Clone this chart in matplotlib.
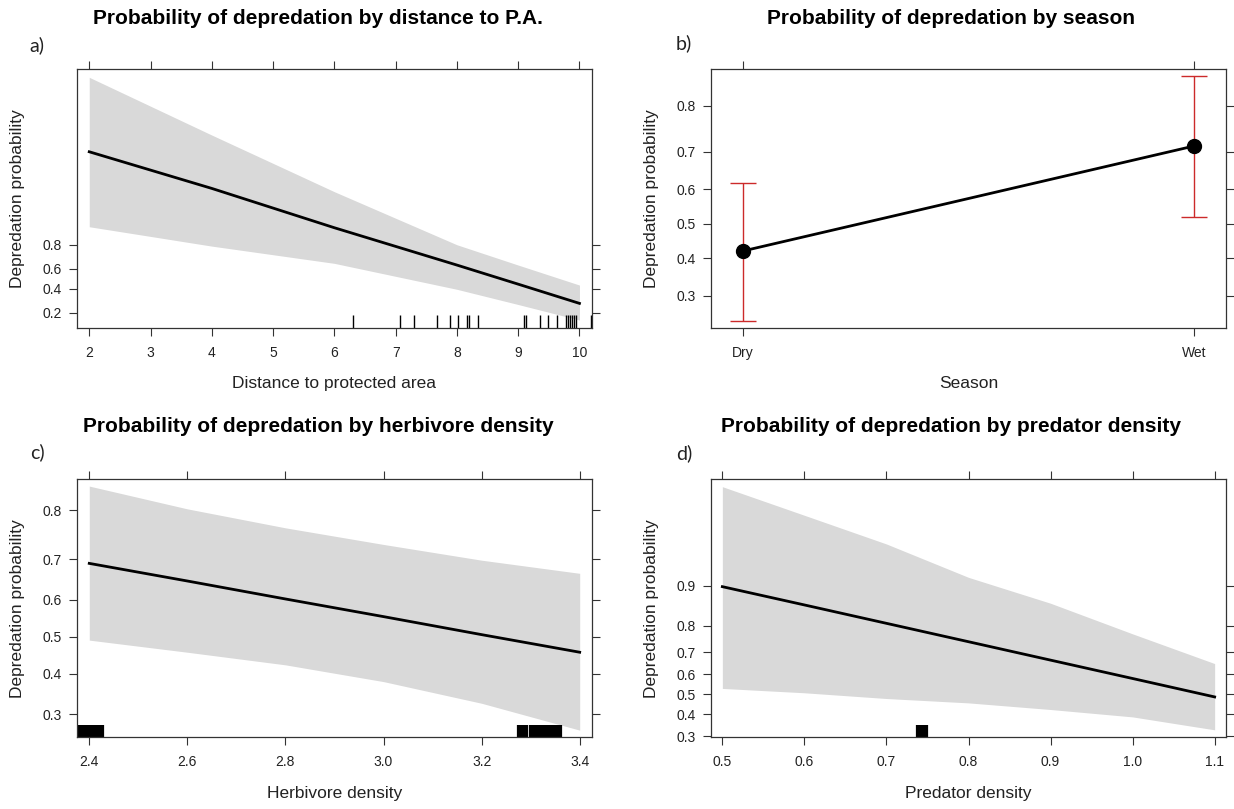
import matplotlib
matplotlib.use('Agg')
import matplotlib.pyplot as plt
from matplotlib import font_manager
from matplotlib.ticker import NullLocator, FixedLocator, FixedFormatter

# Valeurs (probabilités, axe y en échelle logit)
dist_x = [2, 4, 6, 8, 9, 10]
dist_fit = [0.9944, 0.9755, 0.889, 0.636, 0.445, 0.268]
dist_lower = [0.893, 0.791, 0.652, 0.394, 0.259, 0.1565]
dist_upper = [0.99973, 0.99716, 0.9721, 0.800, 0.636, 0.436]
dist_rug = [6.31, 7.07, 7.30, 7.67, 7.89, 8.02, 8.17, 8.19, 8.35, 9.10, 9.12,
            9.36, 9.49, 9.63, 9.78, 9.81, 9.85, 9.88, 9.91, 9.95, 10.19]
dist_xticks = [2, 3, 4, 5, 6, 7, 8, 9, 10]
dist_yticks = [0.2, 0.4, 0.6, 0.8]

season = ['Dry', 'Wet']
season_fit = [0.4207, 0.7134]
season_lower = [0.243, 0.520]
season_upper = [0.618, 0.8497]
season_yticks = [0.3, 0.4, 0.5, 0.6, 0.7, 0.8]

herb_x = [2.4, 2.6, 2.8, 3.0, 3.2, 3.4]
herb_fit = [0.6906, 0.648, 0.602, 0.555, 0.506, 0.458]
herb_lower = [0.491, 0.458, 0.424, 0.380, 0.326, 0.265]
herb_upper = [0.8386, 0.802, 0.767, 0.733, 0.698, 0.6669]
herb_rug = [2.377, 2.380, 2.383, 2.386, 2.389, 2.392, 2.395, 2.398, 2.401,
            2.404, 2.407, 2.410, 2.413, 2.416, 2.419, 2.422, 2.425, 2.428,
            3.275, 3.278, 3.281, 3.284, 3.288, 3.293, 3.298, 3.303, 3.306,
            3.309, 3.312, 3.315, 3.318, 3.321, 3.324, 3.327, 3.330, 3.333,
            3.336, 3.339, 3.342, 3.345, 3.349, 3.352, 3.355, 3.359, 3.362]
herb_xticks = [2.4, 2.6, 2.8, 3.0, 3.2, 3.4]
herb_yticks = [0.3, 0.4, 0.5, 0.6, 0.7, 0.8]

pred_x = [0.5, 0.6, 0.7, 0.8, 0.9, 1.0, 1.1]
pred_fit = [0.898, 0.8588, 0.8074, 0.7429, 0.6657, 0.5786, 0.486]
pred_lower = [0.529, 0.507, 0.478, 0.456, 0.423, 0.387, 0.327]
pred_upper = [0.9852, 0.9739, 0.9543, 0.914, 0.8629, 0.7721, 0.650]
pred_rug = [0.737, 0.739, 0.741, 0.743, 0.745, 0.747, 0.749]
pred_xticks = [0.5, 0.6, 0.7, 0.8, 0.9, 1.0, 1.1]
pred_yticks = [0.3, 0.4, 0.5, 0.6, 0.7, 0.8, 0.9]

# Police étroite si disponible (le graphique R d'origine est compressé)
available = {f.name for f in font_manager.fontManager.ttflist}
base_font = 'Liberation Sans Narrow' if 'Liberation Sans Narrow' in available else 'Liberation Sans'
plt.rcParams['font.family'] = [base_font, 'DejaVu Sans']

band_color = '#d9d9d9'
text_color = '#222222'

fig = plt.figure(figsize=(12.34, 8.09), dpi=100)
ax_a = fig.add_axes([0.0626, 0.5949, 0.4169, 0.3194])
ax_b = fig.add_axes([0.5764, 0.5949, 0.4169, 0.3194])
ax_c = fig.add_axes([0.0626, 0.0886, 0.4169, 0.3193])
ax_d = fig.add_axes([0.5764, 0.0886, 0.4169, 0.3193])


def style_axes(ax, xticks, xlabels, yticks, xlim, ylim, xlabel):
    ax.set_yscale('logit')
    ax.set_xlim(xlim)
    ax.set_ylim(ylim)
    ax.xaxis.set_major_locator(FixedLocator(xticks))
    ax.xaxis.set_major_formatter(FixedFormatter(xlabels))
    ax.yaxis.set_major_locator(FixedLocator(yticks))
    ax.yaxis.set_major_formatter(FixedFormatter([f'{v:.1f}' for v in yticks]))
    ax.yaxis.set_minor_locator(NullLocator())
    ax.xaxis.set_minor_locator(NullLocator())
    ax.tick_params(direction='out', length=6, width=0.8, color='#333333',
                   top=True, right=True, labelsize=10, labelcolor=text_color)
    ax.tick_params(axis='x', pad=7)
    ax.tick_params(axis='y', pad=5)
    for sp in ax.spines.values():
        sp.set_linewidth(0.9)
        sp.set_color('#333333')
    ax.set_xlabel(xlabel, fontsize=12.5, color=text_color, labelpad=12)
    ax.set_ylabel('Depredation probability', fontsize=12.5, color=text_color)
    ax.yaxis.set_label_coords(-0.102, 0.5)


def draw_effect(ax, x, fit, lower, upper, rug, rug_lw=1.0):
    ax.fill_between(x, lower, upper, color=band_color, lw=0, zorder=1)
    ax.plot(x, fit, color='black', lw=2, zorder=3)
    # rug : petits traits depuis le bas du cadre
    ax.vlines(rug, 0, 0.048, color='black', lw=rug_lw,
              transform=ax.get_xaxis_transform(), zorder=2)


# a) distance à l'aire protégée
draw_effect(ax_a, dist_x, dist_fit, dist_lower, dist_upper, dist_rug)
style_axes(ax_a, dist_xticks, [str(v) for v in dist_xticks], dist_yticks,
           (1.804, 10.2), (0.1194, 0.999805), 'Distance to protected area')

# b) saison
pos = [1, 2]
err_lo = [f - l for f, l in zip(season_fit, season_lower)]
err_hi = [u - f for f, u in zip(season_fit, season_upper)]
ax_b.errorbar(pos, season_fit, yerr=[err_lo, err_hi], fmt='none',
              ecolor='#cc2a2a', elinewidth=1, capsize=9.5, capthick=1, zorder=2)
ax_b.plot(pos, season_fit, color='black', lw=2, marker='o', markersize=10, zorder=3)
style_axes(ax_b, pos, season, season_yticks, (0.93, 2.07), (0.228, 0.8595), 'Season')

# c) densité d'herbivores
draw_effect(ax_c, herb_x, herb_fit, herb_lower, herb_upper, herb_rug, rug_lw=1.6)
style_axes(ax_c, herb_xticks, [f'{v:.1f}' for v in herb_xticks], herb_yticks,
           (2.3755, 3.4245), (0.250, 0.8488), 'Herbivore density')

# d) densité de prédateurs
draw_effect(ax_d, pred_x, pred_fit, pred_lower, pred_upper, pred_rug, rug_lw=1.6)
style_axes(ax_d, pred_xticks, [f'{v:.1f}' for v in pred_xticks], pred_yticks,
           (0.4865, 1.1135), (0.2946, 0.9873), 'Predator density')

# Titres et lettres des panneaux
titles = [
    (0.2577, 0.9777, 'Probability of depredation by distance to P.A.'),
    (0.7707, 0.9777, 'Probability of depredation by season'),
    (0.2577, 0.4722, 'Probability of depredation by herbivore density'),
    (0.7707, 0.4722, 'Probability of depredation by predator density'),
]
for x, y, t in titles:
    fig.text(x, y, t, ha='center', va='center', fontsize=15,
             fontweight='bold', color='black')

letters = [(0.030, 0.9444, 'a)'), (0.5543, 0.9462, 'b)'),
           (0.030, 0.4413, 'c)'), (0.5543, 0.44, 'd)')]
for x, y, t in letters:
    fig.text(x, y, t, ha='center', va='center', fontsize=14,
             family=['Lato', 'DejaVu Sans'], color='#222222')

plt.savefig('out.png', dpi=100)
